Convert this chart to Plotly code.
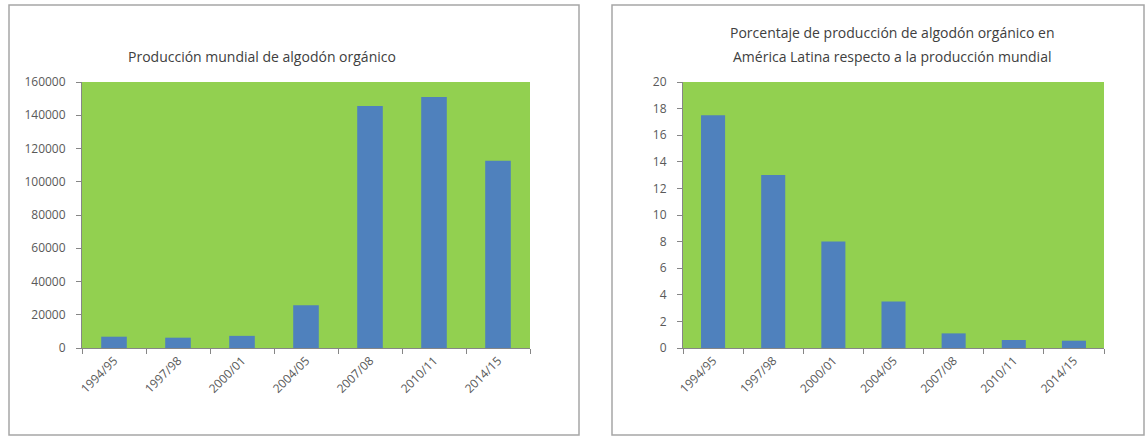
import plotly.graph_objects as go

W, H = 1147, 438

categories = ["1994/95", "1997/98", "2000/01", "2004/05", "2007/08", "2010/11", "2014/15"]
world_production = [6800, 6200, 7300, 25700, 145500, 151000, 112700]
latam_share = [17.5, 13.0, 8.0, 3.5, 1.1, 0.6, 0.55]

title_left = "Producción mundial de algodón orgánico"
title_right_1 = "Porcentaje de producción de algodón orgánico en"
title_right_2 = "América Latina respecto a la producción mundial"

GREEN = "#92D050"
BLUE = "#4F81BD"
AXIS = "#868686"
TICKFONT = dict(family="Open Sans, Lato, sans-serif", size=12, color="#595959")
TITLEFONT = dict(family="Open Sans, Lato, sans-serif", size=14, color="#404040")


def px_x(x):
    return x / W


def px_y(y):
    return 1 - y / H


fig = go.Figure()
fig.add_trace(go.Bar(x=categories, y=world_production, marker=dict(color=BLUE, line=dict(width=0)),
                     width=0.4, xaxis="x", yaxis="y", showlegend=False))
fig.add_trace(go.Bar(x=categories, y=latam_share, marker=dict(color=BLUE, line=dict(width=0)),
                     width=0.4, xaxis="x2", yaxis="y2", showlegend=False))

axis_common = dict(showline=True, linecolor=AXIS, linewidth=1, ticks="outside", tickcolor=AXIS,
                   ticklen=5, tickfont=TICKFONT, showgrid=False, zeroline=False, automargin=False)

fig.update_layout(
    width=W, height=H,
    margin=dict(l=0, r=0, t=0, b=0, pad=0),
    paper_bgcolor="white",
    xaxis=dict(domain=[px_x(82), px_x(530)], anchor="y", type="category", tickangle=-45,
               tickson="boundaries", **axis_common),
    yaxis=dict(domain=[px_y(348), px_y(82)], anchor="x", range=[0, 160000], dtick=20000,
               tickformat="d", ticklabelstandoff=8, **axis_common),
    xaxis2=dict(domain=[px_x(683), px_x(1104)], anchor="y2", type="category", tickangle=-45,
                tickson="boundaries", **axis_common),
    yaxis2=dict(domain=[px_y(348), px_y(82)], anchor="x2", range=[0, 20], dtick=2,
                ticklabelstandoff=8, **axis_common),
    shapes=[
        dict(type="rect", xref="x domain", yref="y domain", x0=0, x1=1, y0=0, y1=1,
             fillcolor=GREEN, line=dict(width=0), layer="below"),
        dict(type="rect", xref="x2 domain", yref="y2 domain", x0=0, x1=1, y0=0, y1=1,
             fillcolor=GREEN, line=dict(width=0), layer="below"),
        dict(type="rect", xref="paper", yref="paper", x0=px_x(9), x1=px_x(579), y0=px_y(435), y1=px_y(5),
             line=dict(color="#A6A6A6", width=1.5), fillcolor="rgba(0,0,0,0)", layer="below"),
        dict(type="rect", xref="paper", yref="paper", x0=px_x(612), x1=px_x(1144), y0=px_y(435), y1=px_y(5),
             line=dict(color="#A6A6A6", width=1.5), fillcolor="rgba(0,0,0,0)", layer="below"),
    ],
    annotations=[
        dict(text=title_left, xref="paper", yref="paper", x=px_x(262), y=px_y(57), xanchor="center",
             yanchor="middle", showarrow=False, font=TITLEFONT),
        dict(text=title_right_1, xref="paper", yref="paper", x=px_x(892), y=px_y(33), xanchor="center",
             yanchor="middle", showarrow=False, font=TITLEFONT),
        dict(text=title_right_2, xref="paper", yref="paper", x=px_x(892), y=px_y(57), xanchor="center",
             yanchor="middle", showarrow=False, font=TITLEFONT),
    ],
)

fig.write_html("out.html")
